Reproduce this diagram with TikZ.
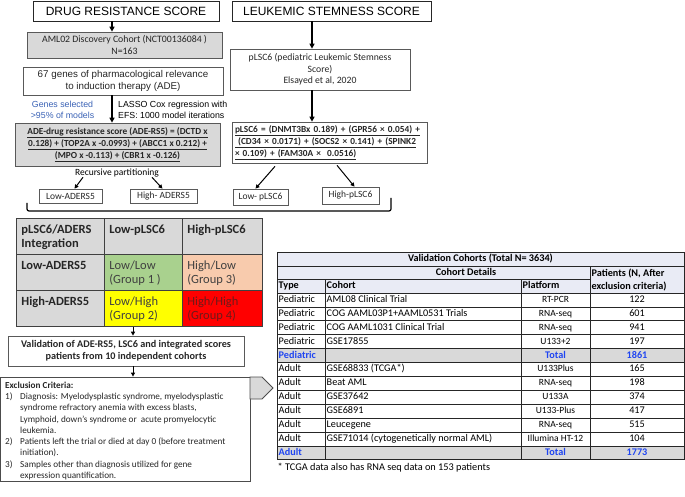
\documentclass[tikz,border=0pt]{standalone}
\usepackage{fontspec}
\setmainfont{Carlito}
\newfontfamily\arialf{Liberation Sans}
\usetikzlibrary{arrows.meta}
\definecolor{boxgray}{HTML}{D9D9D9}
\definecolor{edge}{HTML}{595959}
\definecolor{lblue}{HTML}{3A62B5}
\definecolor{tblue}{HTML}{1F45F2}
\definecolor{hdrfill}{HTML}{E9EBF5}
\definecolor{cgreen}{HTML}{A9D18E}
\definecolor{cpeach}{HTML}{F8CBAD}
\definecolor{cyellow}{HTML}{FFFF00}
\definecolor{cred}{HTML}{FF0000}
\definecolor{ctext}{HTML}{404040}
\definecolor{credtext}{HTML}{6E1A1A}
\newcommand\cbx[2]{\parbox[c][36pt][t]{#1}{\rule{0pt}{15pt}#2}}
\begin{document}
\begin{tikzpicture}[x=1pt,y=-1pt,
 box/.style={draw=edge, line width=0.7pt, inner sep=0pt, align=center, text=black!85},
 graybox/.style={box, fill=boxgray},
 titlebox/.style={draw=black!85, line width=0.9pt, inner sep=0pt, font=\arialf\fontsize{12}{14}\selectfont},
 arr/.style={line width=1.4pt, -{Triangle[length=5pt,width=5pt]}},
 sarr/.style={line width=1pt, -{Triangle[length=4pt,width=4pt]}},
 cell/.style={draw=black!75, line width=0.8pt, inner xsep=5pt, inner ysep=0pt, anchor=north west, text=ctext, font=\fontsize{12.5}{14.5}\selectfont},
 hcell/.style={cell, fill=boxgray, text=black!85},
 tline/.style={draw=black!85, line width=0.8pt},
 tcell/.style={inner sep=0pt, text height=7pt, text depth=2pt, font=\fontsize{10.2}{12}\selectfont},
 tbold/.style={tcell, font=\bfseries\fontsize{10.2}{12}\selectfont},
 ttot/.style={tbold, text=tblue}
]
\useasboundingbox (0,0) rectangle (685,497);
\coordinate (cl) at (112,0);
\coordinate (cr) at (312,0);
\coordinate (cm) at (133,0);

% ---------- drug resistance column
\node[titlebox, minimum width=186pt, minimum height=20pt] (drs) at (126,11) {DRUG RESISTANCE SCORE};
\node[graybox, minimum width=195pt, minimum height=26pt, font=\fontsize{9.8}{12}\selectfont] (aml) at (124.5,45) {AML02 Discovery Cohort (NCT00136084 )\\N=163};
\node[box, minimum width=200pt, minimum height=28pt, font=\arialf\fontsize{9.8}{12}\selectfont] (g67) at (123,81) {67 genes of pharmacological relevance\\to induction therapy (ADE)};
\node[align=center, inner sep=0pt, text=lblue, font=\arialf\fontsize{8.8}{11}\selectfont] (gsel) at (62.5,109.5) {Genes selected\\>95\% of models};
\node[align=left, anchor=west, inner sep=0pt, font=\arialf\fontsize{8.8}{11}\selectfont] (lasso) at (118,109.5) {LASSO Cox regression with\\EFS: 1000 model iterations};
\node[graybox, minimum width=205pt, minimum height=43pt, font=\bfseries\fontsize{9.3}{12}\selectfont] (ade) at (117.5,144.5) {\underline{ADE-drug resistance score (ADE-RS5) = (DCTD x}\\\underline{0.128) + (TOP2A x -0.0993) + (ABCC1 x 0.212) +}\\\underline{(MPO x -0.113) + (CBR1 x -0.126)}};
\node[inner sep=0pt, font=\fontsize{9.5}{11}\selectfont] (rp) at (117,173) {Recursive partitioning};
\node[box, minimum width=63pt, minimum height=14pt, font=\fontsize{9.5}{11}\selectfont] (lowade) at (70.5,196) {Low-ADERS5};
\node[box, minimum width=67pt, minimum height=14pt, font=\fontsize{9.5}{11}\selectfont] (highade) at (163.5,196) {High- ADERS5};

\draw[arr] (drs.south -| cl) -- (aml.north -| cl);
\draw[arr] (g67.south -| cl) -- (ade.north -| cl);
\draw[sarr] ([xshift=-34pt]rp.south) -- ([xshift=4pt]lowade.north);
\draw[sarr] ([xshift=35pt]rp.south) -- ([xshift=-1pt]highade.north);

% ---------- stemness column
\node[titlebox, minimum width=199pt, minimum height=20pt] (lss) at (331.5,11) {LEUKEMIC STEMNESS SCORE};
\node[box, minimum width=180pt, minimum height=41pt, font=\fontsize{9.7}{11.5}\selectfont] (plsc) at (320,69.5) {pLSC6 (pediatric Leukemic Stemness\\Score)\\Elsayed et al, 2020};
\node[box, minimum width=195pt, minimum height=41pt, text width=189pt, align=left, font=\bfseries\fontsize{9.3}{12}\selectfont] (form) at (329.5,142.5) {\underline{pLSC6 = (DNMT3Bx 0.189) + (GPR56 × 0.054) +}\\\underline{\ (CD34 × 0.0171) + (SOCS2 × 0.141) + (SPINK2}\\\underline{× 0.109) + (FAM30A ×\ \ 0.0516)}};
\node[box, minimum width=55pt, minimum height=16pt, font=\fontsize{9.5}{11}\selectfont] (lowpl) at (260.5,197) {Low- pLSC6};
\node[box, minimum width=57pt, minimum height=17pt, font=\fontsize{9.5}{11}\selectfont] (highpl) at (350.5,195.5) {High-pLSC6};

\draw[arr] (lss.south -| cr) -- (plsc.north -| cr);
\draw[arr] (plsc.south -| cr) -- (form.north -| cr);
\draw[sarr] ([xshift=-54.5pt,yshift=-3pt]form.south) -- ([xshift=-5pt]lowpl.north);
\draw[sarr] ([xshift=7.5pt,yshift=-2pt]form.south) -- ([xshift=4pt]highpl.north);

% ---------- bracket
\coordinate (bl) at (27,203);
\coordinate (br) at (391,198);
\draw[line width=1.2pt, rounded corners=2pt] (bl) -- (27,211) -- (391,211) -- (br);

% ---------- integration matrix
\node[hcell] (c00) at (16,218) {\cbx{78pt}{\textbf{pLSC6/ADERS}\\\textbf{Integration}}};
\node[hcell] (c01) at (104,218) {\cbx{68pt}{\textbf{Low-pLSC6}}};
\node[hcell] (c02) at (182,218) {\cbx{70pt}{\textbf{High-pLSC6}}};
\node[hcell] (c10) at (16,254) {\cbx{78pt}{\textbf{Low-ADERS5}}};
\node[cell, fill=cgreen] (c11) at (104,254) {\cbx{68pt}{Low/Low\\(Group 1 )}};
\node[cell, fill=cpeach] (c12) at (182,254) {\cbx{70pt}{High/Low\\(Group 3)}};
\node[hcell] (c20) at (16,290) {\cbx{78pt}{\textbf{High-ADERS5}}};
\node[cell, fill=cyellow] (c21) at (104,290) {\cbx{68pt}{Low/High\\(Group 2)}};
\node[cell, fill=cred, text=credtext] (c22) at (182,290) {\cbx{70pt}{High/High\\(Group 4)}};

% ---------- validation and exclusion
\node[box, fill=white, minimum width=236pt, minimum height=30pt, font=\bfseries\fontsize{10.2}{12}\selectfont] (valid) at (126,351) {Validation of ADE-RS5, LSC6 and integrated scores\\patients from 10 independent cohorts};
\node[draw=black!70, line width=0.8pt, minimum width=249.5pt, minimum height=104pt, inner sep=0pt] (excl) at (125.25,429) {};
\node[anchor=north west, inner sep=0pt, text=black!85, font=\fontsize{9.2}{11.3}\selectfont] (extext) at (5,380) {%
\begin{tabular}{@{}p{15pt}@{}l@{}}
\multicolumn{2}{@{}l@{}}{\textbf{Exclusion Criteria:}}\\
1) & Diagnosis: Myelodysplastic syndrome, myelodysplastic\\
 & syndrome refractory anemia with excess blasts,\\
 & Lymphoid, down’s syndrome or\ \ acute promyelocytic\\
 & leukemia.\\
2) & Patients left the trial or died at day 0 (before treatment\\
 & initiation).\\
3) & Samples other than diagnosis utilized for gene\\
 & expression quantification.
\end{tabular}};
\draw[sarr] (c21.south -| cm) -- (valid.north -| cm);
\draw[sarr] (valid.south -| cm) -- (excl.north -| cm);
\draw[fill=boxgray, draw=black!70, line width=0.8pt] (250,377) -- (262,377) -- (273,388) -- (262,399) -- (250,399) -- cycle;

% ---------- validation cohorts table
\fill[hdrfill] (277,252) rectangle (684,293);
\fill[boxgray] (277,348.6) rectangle (684,362.5);
\fill[boxgray] (277,445.9) rectangle (684,459.8);
\draw[tline] (277,252) -- (684,252);
\draw[tline] (277,266) -- (684,266);
\draw[tline] (277,279.5) -- (590,279.5);
\foreach \k in {0,...,12} \draw[tline] (277,{293+\k*13.9}) -- (684,{293+\k*13.9});
\draw[tline] (277,252) -- (277,459.8);
\draw[tline] (684,252) -- (684,459.8);
\draw[tline] (590,266) -- (590,459.8);
\draw[tline] (325,279.5) -- (325,459.8);
\draw[tline] (521,279.5) -- (521,459.8);

\node[tbold] (vt) at (480.5,259) {Validation Cohorts (Total N= 3634)};
\node[tbold] (cdet) at (466,272.7) {Cohort Details};
\node[anchor=west, inner sep=0pt, align=left, font=\bfseries\fontsize{10.2}{12.5}\selectfont] (hpat) at (591.5,280) {Patients (N, After\\exclusion criteria)};
\node[tbold, anchor=west] (hty) at (278.5,286.25) {Type};
\node[tbold, anchor=west] (hco) at (326.5,286.25) {Cohort};
\node[tbold, anchor=west] (hpl) at (522.5,286.25) {Platform};

\foreach \k/\ty/\co/\pl/\n in {1/Pediatric/AML08 Clinical Trial/RT-PCR/122, 2/Pediatric/COG AAML03P1+AAML0531 Trials/RNA-seq/601, 3/Pediatric/COG AAML1031 Clinical Trial/RNA-seq/941, 4/Pediatric/GSE17855/U133+2/197, 6/Adult/GSE68833 (TCGA*)/U133Plus/165, 7/Adult/Beat AML/RNA-seq/198, 8/Adult/GSE37642/U133A/374, 9/Adult/GSE6891/U133-Plus/417, 10/Adult/Leucegene/RNA-seq/515, 11/Adult/GSE71014 (cytogenetically normal AML)/Illumina HT-12/104}{
 \node[tcell, anchor=west] (ty\k) at (278.5,{293+(\k-0.5)*13.9}) {\ty};
 \node[tcell, anchor=west] (co\k) at (326.5,{293+(\k-0.5)*13.9}) {\co};
 \node[tcell, font=\fontsize{9.5}{11}\selectfont] (pl\k) at (555.5,{293+(\k-0.5)*13.9}) {\pl};
 \node[tcell] (n\k) at (637,{293+(\k-0.5)*13.9}) {\n};
}
\node[ttot, anchor=west] (pedty) at (278.5,355.55) {Pediatric};
\node[ttot] (pedtot) at (555.5,355.55) {Total};
\node[ttot] (pedn) at (637,355.55) {1861};
\node[ttot, anchor=west] (adty) at (278.5,452.85) {Adult};
\node[ttot] (adtot) at (555.5,452.85) {Total};
\node[ttot] (adn) at (637,452.85) {1773};

\node[anchor=west, inner sep=0pt, font=\fontsize{10.3}{12}\selectfont] (fn) at (277.5,468) {* TCGA data also has RNA seq data on 153 patients};
\end{tikzpicture}
\end{document}
